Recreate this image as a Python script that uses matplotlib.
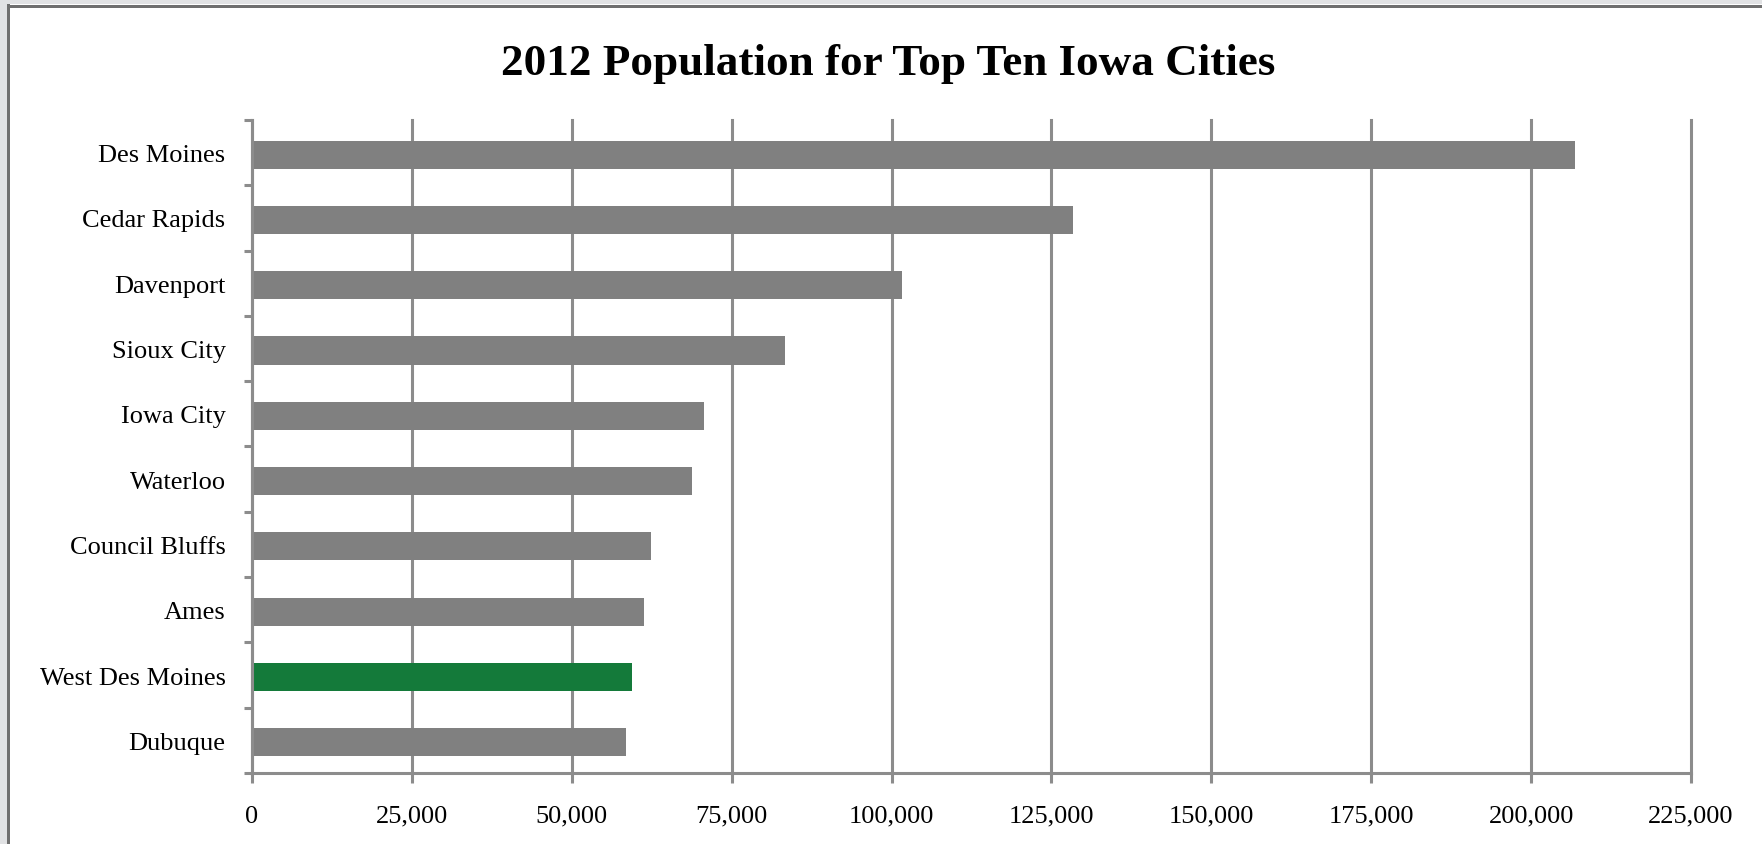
import matplotlib
matplotlib.use('Agg')
import matplotlib.pyplot as plt
from matplotlib.patches import Rectangle
from matplotlib.ticker import FuncFormatter, FixedLocator
import numpy as np

# 2012 population estimates, largest first
cities = ['Des Moines', 'Cedar Rapids', 'Davenport', 'Sioux City', 'Iowa City',
          'Waterloo', 'Council Bluffs', 'Ames', 'West Des Moines', 'Dubuque']
population = [206800, 128400, 101700, 83300, 70700, 68800, 62400, 61300, 59400, 58500]
highlight = 'West Des Moines'
x_ticks = [0, 25000, 50000, 75000, 100000, 125000, 150000, 175000, 200000, 225000]

W, H = 1762, 845
fig = plt.figure(figsize=(W / 100, H / 100), dpi=100)
fig.patch.set_facecolor('white')

# window frame: pale strip with a dark rule along top and left
pale = '#e1e2e4'
dark = '#6f6f6f'
fig.add_artist(Rectangle((0, 1 - 5 / H), 1, 5 / H, transform=fig.transFigure, color=pale, lw=0))
fig.add_artist(Rectangle((0, 0), 7 / W, 1, transform=fig.transFigure, color=pale, lw=0))
fig.add_artist(Rectangle((7 / W, 0), 3 / W, 1 - 5 / H, transform=fig.transFigure, color=dark, lw=0))
fig.add_artist(Rectangle((7 / W, 1 - 9 / H), 1, 3 / H, transform=fig.transFigure, color=dark, lw=0))

ax = fig.add_axes([252 / W, 1 - 774 / H, (1691 - 252) / W, (774 - 121) / H])

grid_col = '#8c8c8c'
y = np.arange(len(cities))
colors = ['#147a3a' if c == highlight else '#808080' for c in cities]
ax.barh(y + 0.03, population, height=0.43, color=colors, zorder=3)

ax.set_xlim(0, 225000)
ax.set_ylim(len(cities) - 0.5, -0.5)
ax.xaxis.set_major_locator(FixedLocator(x_ticks))
ax.xaxis.set_major_formatter(FuncFormatter(lambda v, p: '{:,.0f}'.format(v)))
ax.set_yticks(y)
ax.set_yticklabels(cities)
ax.yaxis.set_minor_locator(FixedLocator(np.arange(-0.5, len(cities), 1.0)))

ax.grid(axis='x', color=grid_col, linewidth=2.2, zorder=1)
for gl in ax.get_xgridlines():
    gl.set_clip_on(False)
for s in ['top', 'right']:
    ax.spines[s].set_visible(False)
for s in ['left', 'bottom']:
    ax.spines[s].set_color(grid_col)
    ax.spines[s].set_linewidth(2.2)
    ax.spines[s].set_zorder(4)

font = 'Liberation Serif'
ax.tick_params(axis='x', which='major', length=7, width=2.2, color=grid_col, pad=16,
               labelsize=19)
ax.tick_params(axis='y', which='major', length=0, pad=19, labelsize=19)
ax.tick_params(axis='y', which='minor', length=6, width=2.2, color=grid_col)
for lbl in ax.get_xticklabels() + ax.get_yticklabels():
    lbl.set_fontfamily(font)

fig.text(888 / W, 1 - 64 / H, '2012 Population for Top Ten Iowa Cities', ha='center',
         va='center', fontsize=32.5, fontweight='bold', family=font)

fig.savefig('out.png', dpi=100)
